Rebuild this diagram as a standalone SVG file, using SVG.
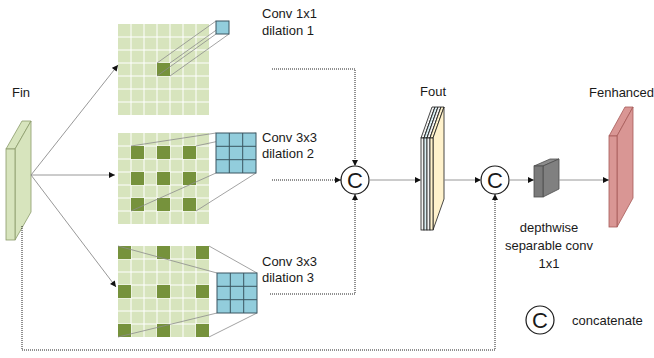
<svg xmlns="http://www.w3.org/2000/svg" width="654" height="358" viewBox="0 0 654 358">
  <style>
    text { font-family: "Liberation Sans", Arial, sans-serif; font-size: 13px; fill: #1a1a1a; }
    .big { font-size: 22px; }
    .dk { fill: #76923c; }
    .proj { stroke: #8c8c8c; stroke-width: 0.8; fill: none; }
    .kern { fill: #92cddc; stroke: #3a5560; stroke-width: 1; }
    .kl { stroke: #3a5560; stroke-width: 1; }
    .solid { stroke: #8c8c8c; stroke-width: 0.9; fill: none; }
    .dot { stroke: #222222; stroke-width: 1; stroke-dasharray: 1 1; fill: none; }
    .circ { fill: #ffffff; stroke: #1a1a1a; stroke-width: 1.2; }
  </style>
  <defs>
    <marker id="ah" viewBox="0 0 10 10" refX="10" refY="5" markerWidth="7" markerHeight="6" markerUnits="userSpaceOnUse" orient="auto">
      <path d="M0,0 L10,5 L0,10 z" fill="#111111"/>
    </marker>
    <!-- 7x7 feature map, 13px cells -->
    <g id="fmap">
      <rect width="91" height="91" fill="#d7e4bd"/>
      <path d="M13,0 V91 M26,0 V91 M39,0 V91 M52,0 V91 M65,0 V91 M78,0 V91 M0,13 H91 M0,26 H91 M0,39 H91 M0,52 H91 M0,65 H91 M0,78 H91" stroke="#ffffff" stroke-width="1"/>
    </g>
  </defs>

  <!-- input feature map -->
  <g id="fin">
    <text x="12" y="97">Fin</text>
    <polygon points="6,149 22,121 31,121 15,149" fill="#d7e4bd" stroke="#8a9a6a" stroke-width="0.8"/>
    <polygon points="15,149 31,121 31,212 15,240" fill="#d7e4bd" stroke="#8a9a6a" stroke-width="0.8"/>
    <rect x="6" y="149" width="9" height="91" fill="#d7e4bd" stroke="#8a9a6a" stroke-width="0.8"/>
  </g>

  <!-- branch 1: 1x1 conv, dilation 1 -->
  <g id="branch1">
    <use href="#fmap" x="118" y="24"/>
    <rect x="157" y="63" width="13" height="13" class="dk"/>
    <path class="proj" d="M157,63 L216,21 M170,63 L229,21 M157,76 L216,34 M170,76 L229,34"/>
    <rect x="216" y="21" width="13" height="13" class="kern"/>
    <text x="262" y="18">Conv 1x1</text>
    <text x="262" y="35">dilation 1</text>
  </g>

  <!-- branch 2: 3x3 conv, dilation 2 -->
  <g id="branch2">
    <use href="#fmap" x="118" y="133"/>
    <g class="dk">
      <rect x="131" y="146" width="13" height="13"/><rect x="157" y="146" width="13" height="13"/><rect x="183" y="146" width="13" height="13"/>
      <rect x="131" y="172" width="13" height="13"/><rect x="157" y="172" width="13" height="13"/><rect x="183" y="172" width="13" height="13"/>
      <rect x="131" y="198" width="13" height="13"/><rect x="157" y="198" width="13" height="13"/><rect x="183" y="198" width="13" height="13"/>
    </g>
    <path class="proj" d="M131,146 L216,133 M196,146 L256,133 M131,211 L216,173 M196,211 L256,173"/>
    <rect x="216" y="133" width="40" height="40" class="kern"/>
    <path class="kl" d="M229.3,133 V173 M242.7,133 V173 M216,146.3 H256 M216,159.7 H256"/>
    <text x="262" y="142">Conv 3x3</text>
    <text x="262" y="158">dilation 2</text>
  </g>

  <!-- branch 3: 3x3 conv, dilation 3 -->
  <g id="branch3">
    <use href="#fmap" x="118" y="246"/>
    <g class="dk">
      <rect x="118" y="246" width="13" height="13"/><rect x="157" y="246" width="13" height="13"/><rect x="196" y="246" width="13" height="13"/>
      <rect x="118" y="285" width="13" height="13"/><rect x="157" y="285" width="13" height="13"/><rect x="196" y="285" width="13" height="13"/>
      <rect x="118" y="324" width="13" height="13"/><rect x="157" y="324" width="13" height="13"/><rect x="196" y="324" width="13" height="13"/>
    </g>
    <path class="proj" d="M118,246 L217,273 M209,246 L257,273 M118,337 L217,313 M209,337 L257,313"/>
    <rect x="217" y="273" width="40" height="40" class="kern"/>
    <path class="kl" d="M230.3,273 V313 M243.7,273 V313 M217,286.3 H257 M217,299.7 H257"/>
    <text x="262" y="266">Conv 3x3</text>
    <text x="262" y="282">dilation 3</text>
  </g>

  <!-- first concatenation -->
  <g id="concat1">
    <circle cx="355" cy="180" r="14" class="circ"/>
    <text x="355" y="188" class="big" text-anchor="middle">C</text>
  </g>

  <!-- stacked output features -->
  <g id="fout">
    <text x="420" y="96">Fout</text>
    <g stroke="#1a1a1a" stroke-width="0.8">
      <polygon points="421,138 432,107 435,107 424,138" fill="#f2f2f2"/>
      <polygon points="424,138 424,230 435,199 435,107" fill="#f2f2f2"/>
      <rect x="421" y="138" width="3" height="92" fill="#f2f2f2"/>
      <polygon points="424,138 435,107 438,107 427,138" fill="#daeef3"/>
      <polygon points="427,138 427,230 438,199 438,107" fill="#daeef3"/>
      <rect x="424" y="138" width="3" height="92" fill="#daeef3"/>
      <polygon points="427,138 438,107 441,107 430,138" fill="#f2f2f2"/>
      <polygon points="430,138 430,230 441,199 441,107" fill="#f2f2f2"/>
      <rect x="427" y="138" width="3" height="92" fill="#f2f2f2"/>
      <polygon points="430,138 441,107 444,107 433,138" fill="#fff2cc"/>
      <polygon points="433,138 433,230 444,199 444,107" fill="#fff2cc"/>
      <rect x="430" y="138" width="3" height="92" fill="#fff2cc"/>
    </g>
  </g>

  <!-- second concatenation -->
  <g id="concat2">
    <circle cx="495" cy="180" r="14" class="circ"/>
    <text x="495" y="188" class="big" text-anchor="middle">C</text>
  </g>

  <!-- depthwise separable conv -->
  <g id="dwconv">
    <g stroke="#4d4d4d" stroke-width="0.8">
      <polygon points="534,166 550,159 559,159 543,166" fill="#8c8c8c"/>
      <polygon points="543,166 559,159 559,189 543,197" fill="#808080"/>
      <rect x="534" y="166" width="9" height="31" fill="#7a7a7a"/>
    </g>
    <text x="549" y="232" text-anchor="middle">depthwise</text>
    <text x="549" y="250" text-anchor="middle">separable conv</text>
    <text x="549" y="268" text-anchor="middle">1x1</text>
  </g>

  <!-- enhanced features -->
  <g id="fenhanced">
    <text x="589" y="97">Fenhanced</text>
    <g stroke="#a65a58" stroke-width="0.8">
      <polygon points="609,136 625,107 633,107 617,136" fill="#d99694"/>
      <polygon points="617,136 633,107 633,198 617,227" fill="#d99694"/>
      <rect x="609" y="136" width="8" height="91" fill="#d99694"/>
    </g>
  </g>

  <!-- legend -->
  <g id="legend">
    <circle cx="540" cy="320" r="14" class="circ"/>
    <text x="540" y="328" class="big" text-anchor="middle">C</text>
    <text x="572" y="325">concatenate</text>
  </g>

  <!-- connectors -->
  <g id="connectors">
    <path class="solid" d="M31,175 L118,65" marker-end="url(#ah)"/>
    <path class="solid" d="M31,175 L115,175" marker-end="url(#ah)"/>
    <path class="solid" d="M31,175 L116,287" marker-end="url(#ah)"/>
    <path class="dot" d="M272,69 H355 V166" marker-end="url(#ah)"/>
    <path class="dot" d="M272,180 H341" marker-end="url(#ah)"/>
    <path class="dot" d="M270,294 H355 V194" marker-end="url(#ah)"/>
    <path class="dot" d="M22,226 V350 H495 V194" marker-end="url(#ah)"/>
    <path class="solid" d="M369,180 H421" marker-end="url(#ah)"/>
    <path class="solid" d="M444,180 H481" marker-end="url(#ah)"/>
    <path class="solid" d="M509,180 H534" marker-end="url(#ah)"/>
    <path class="solid" d="M559,180 H609" marker-end="url(#ah)"/>
  </g>
</svg>
